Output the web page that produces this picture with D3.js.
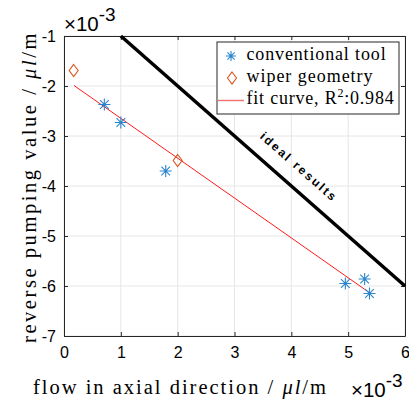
<!DOCTYPE html>
<html>
<head>
<meta charset="utf-8">
<script src="https://cdn.jsdelivr.net/npm/d3@7"></script>
<style>
  body { margin: 0; background: white; }
</style>
</head>
<body>
<div id="canvas"></div>
<script>
const width = 409;
const height = 402;

// data (units of 1e-3)
const convX = [0.71, 1.0, 1.79, 4.95, 5.29, 5.375];
const convY = [-2.37, -2.73, -3.70, -5.95, -5.86, -6.15];
const wiperX = [0.17, 2.0];
const wiperY = [-1.69, -3.49];
const fitX = [0.176, 5.37];
const fitY = [-1.99, -6.13];
const idealX = [1, 6];
const idealY = [-1, -6];
const xTicks = [0, 1, 2, 3, 4, 5, 6];
const yTicks = [-7, -6, -5, -4, -3, -2, -1];
const legendLabels = ["conventional tool", "wiper geometry", "fit curve, R"];

const sans = "'Liberation Sans', Arial, sans-serif";
const serif = "'Liberation Serif', 'Times New Roman', serif";

const svg = d3.select("#canvas")
    .append("svg")
    .attr("width", width)
    .attr("height", height)
    .attr("font-family", sans);

svg.append("rect")
    .attr("width", width)
    .attr("height", height)
    .attr("fill", "white");

const x = d3.scaleLinear().domain([0, 6]).range([64, 405]);
const y = d3.scaleLinear().domain([-7, -1]).range([336, 36]);

// spread the letters of a text so it covers a given width
function fitWidth(sel, target) {
    sel.attr("letter-spacing", 0);
    const node = sel.node();
    const w = node.getComputedTextLength();
    const n = node.textContent.length;
    sel.attr("letter-spacing", Math.max(0, (target - w) / n));
}

// grid
svg.append("g").selectAll("line")
    .data(xTicks)
    .join("line")
    .attr("x1", d => x(d)).attr("x2", d => x(d))
    .attr("y1", y(-7)).attr("y2", y(-1))
    .attr("stroke", "#e6e6e6").attr("stroke-width", 1);

svg.append("g").selectAll("line")
    .data(yTicks)
    .join("line")
    .attr("x1", x(0)).attr("x2", x(6))
    .attr("y1", d => y(d)).attr("y2", d => y(d))
    .attr("stroke", "#e6e6e6").attr("stroke-width", 1);

// axes (ticks inward, box on all sides)
const axisColor = "#262626";
const fmt = d => String(d);
function styleAxis(g) {
    g.attr("font-family", sans).attr("font-size", 16);
    g.selectAll("path").attr("stroke", axisColor);
    g.selectAll("line").attr("stroke", axisColor);
    g.selectAll("text").attr("fill", "#000");
}

svg.append("g")
    .attr("transform", `translate(0,${y(-7)})`)
    .call(d3.axisBottom(x).tickValues(xTicks).tickFormat(fmt).tickSize(-4).tickSizeOuter(0).tickPadding(11))
    .call(styleAxis);

svg.append("g")
    .attr("transform", `translate(0,${y(-1)})`)
    .call(d3.axisTop(x).tickValues(xTicks).tickSize(-4).tickSizeOuter(0).tickFormat(""))
    .call(styleAxis);

svg.append("g")
    .attr("transform", `translate(${x(0)},0)`)
    .call(d3.axisLeft(y).tickValues(yTicks).tickFormat(fmt).tickSize(-4).tickSizeOuter(0).tickPadding(8))
    .call(styleAxis);

svg.append("g")
    .attr("transform", `translate(${x(6)},0)`)
    .call(d3.axisRight(y).tickValues(yTicks).tickSize(-4).tickSizeOuter(0).tickFormat(""))
    .call(styleAxis);

// ideal line
const line = d3.line().x(d => x(d[0])).y(d => y(d[1]));
svg.append("path")
    .attr("d", line(d3.zip(idealX, idealY)))
    .attr("stroke", "black")
    .attr("stroke-width", 3.5)
    .attr("fill", "none");

// fit line
svg.append("path")
    .attr("d", line(d3.zip(fitX, fitY)))
    .attr("stroke", "#ff1a1a")
    .attr("stroke-width", 1)
    .attr("fill", "none");

// markers
const blue = "#2a85cc";
const orange = "#D95319";
function asterisk(g, cx, cy, r) {
    const d = r * 0.72;
    g.append("path")
        .attr("d", `M${cx - r},${cy}L${cx + r},${cy}M${cx},${cy - r}L${cx},${cy + r}` +
            `M${cx - d},${cy - d}L${cx + d},${cy + d}M${cx - d},${cy + d}L${cx + d},${cy - d}`)
        .attr("stroke", blue)
        .attr("stroke-width", 1.1)
        .attr("fill", "none");
}
function diamond(g, cx, cy) {
    g.append("path")
        .attr("d", `M${cx},${cy - 6}L${cx + 4.5},${cy}L${cx},${cy + 6}L${cx - 4.5},${cy}Z`)
        .attr("stroke", orange)
        .attr("stroke-width", 1.1)
        .attr("fill", "none");
}

const marks = svg.append("g");
for (let i = 0; i < convX.length; i++) {
    asterisk(marks, x(convX[i]), y(convY[i]), 6);
}
for (let i = 0; i < wiperX.length; i++) {
    diamond(marks, x(wiperX[i]), y(wiperY[i]));
}

// ideal results label
const angle = Math.atan2(y(-6) - y(-1), x(6) - x(1)) * 180 / Math.PI;
svg.append("text")
    .attr("transform", `translate(299,167) rotate(${angle})`)
    .attr("text-anchor", "middle")
    .attr("dy", "0.35em")
    .attr("font-size", 12)
    .attr("font-weight", "bold")
    .attr("letter-spacing", 2.2)
    .text("ideal results");

// legend
const legend = svg.append("g");
legend.append("rect")
    .attr("x", 217).attr("y", 42)
    .attr("width", 182).attr("height", 72)
    .attr("fill", "white")
    .attr("stroke", axisColor)
    .attr("stroke-width", 1);
const rowY = [56, 78, 100.5];
const rowLen = [140, 127, 148];
asterisk(legend, 231, rowY[0], 5);
diamond(legend, 232, rowY[1]);
legend.append("line")
    .attr("x1", 218).attr("x2", 244)
    .attr("y1", rowY[2]).attr("y2", rowY[2])
    .attr("stroke", "#f07070").attr("stroke-width", 1.4);
legendLabels.forEach((d, i) => {
    const t = legend.append("text")
        .attr("x", 246.5)
        .attr("y", rowY[i] + 3.5)
        .attr("font-family", serif)
        .attr("font-size", 18);
    t.append("tspan").text(d);
    if (i === 2) {
        t.append("tspan").attr("dy", -7).attr("font-size", 12).text("2");
        t.append("tspan").attr("dy", 7).text(":0.984");
    }
    fitWidth(t, rowLen[i]);
});

// axis labels
const xl = svg.append("text")
    .attr("x", 33)
    .attr("y", 393.5)
    .attr("font-family", serif)
    .attr("font-size", 20.5);
xl.append("tspan").text("flow in axial direction / ");
xl.append("tspan").attr("font-style", "italic").text("μl");
xl.append("tspan").text("/m");
fitWidth(xl, 295);

const yl = svg.append("text")
    .attr("transform", "translate(36,343) rotate(-90)")
    .attr("font-family", serif)
    .attr("font-size", 20.5);
yl.append("tspan").text("reverse pumping value / ");
yl.append("tspan").attr("font-style", "italic").text("μl");
yl.append("tspan").text("/m");
fitWidth(yl, 312);

// exponent labels
function exponent(px, py) {
    const t = svg.append("text")
        .attr("x", px).attr("y", py)
        .attr("font-family", sans)
        .attr("font-size", 20.5);
    t.append("tspan").text("×10");
    t.append("tspan").attr("dy", -10).attr("font-size", 19).text("-3");
}
exponent(64, 31);
exponent(351, 396.5);
</script>
</body>
</html>
